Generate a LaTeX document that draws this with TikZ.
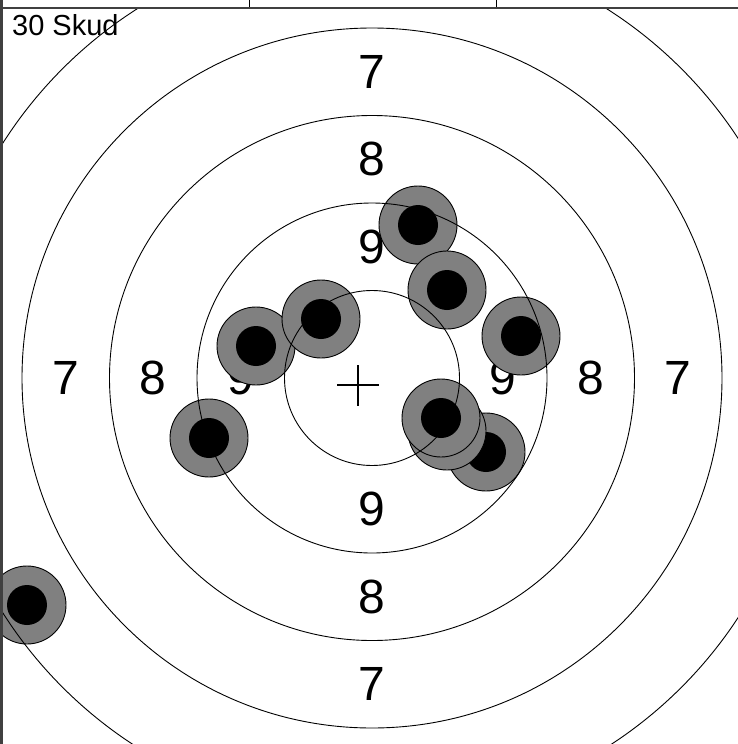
\documentclass[tikz,border=0pt]{standalone}
\usepackage{fontspec}
\setmainfont{Liberation Sans}
\usepackage{xcolor}
\definecolor{cShot}{HTML}{808080}
\definecolor{cFrame}{HTML}{404040}
\tikzset{
  ringline/.style={draw=black, line width=0.9pt},
  ringlabel/.style={inner sep=0pt, font=\fontsize{48}{48}\selectfont},
  countlabel/.style={inner sep=0pt, anchor=base west, font=\fontsize{29}{29}\selectfont},
  shotouter/.style={fill=cShot, draw=black, line width=0.9pt},
  shotinner/.style={fill=black},
  framerule/.style={draw=cFrame, line width=2.4pt},
  cellrule/.style={draw=black, line width=1pt},
  aimcross/.style={draw=black, line width=1.5pt},
}

\begin{document}
\begin{tikzpicture}[x=1pt, y=-1pt]
  \useasboundingbox (0,0) rectangle (738,744);

  % Header cells
  \draw[cellrule] (249,0) -- (249,8);
  \draw[cellrule] (496,0) -- (496,8);

  \begin{scope}
    \clip (2.7,9) rectangle (738,744);

    \begin{scope}[shift={(372,378)}]
      % Ring numbers
      \foreach \v/\d in {7/306, 8/219, 9/131} {
        \node[ringlabel] (top\v) at (0,-\d) {\v};
        \node[ringlabel] (bot\v) at (0,\d) {\v};
        \node[ringlabel] (lft\v) at (-\d,0) {\v};
        \node[ringlabel] (rgt\v) at (\d,0) {\v};
      }
    \end{scope}

    % Shots
    \foreach \sx/\sy [count=\i] in {27/605, 209/438, 256/346, 321/319, 418/225,
        447/290, 521/336, 486/452, 447/431, 441/418} {
      \draw[shotouter] (\sx,\sy) circle[radius=39];
      \fill[shotinner] (\sx,\sy) circle[radius=20];
    }

    % Rings
    \foreach \r in {87.5, 175, 262.5, 350, 437.5}
      \draw[ringline] (372,378) circle[radius=\r];
  \end{scope}

  % Aiming cross
  \coordinate (aim) at (358,385);
  \draw[aimcross] ([xshift=-21pt]aim) -- ([xshift=21pt]aim);
  \draw[aimcross] ([yshift=-20.5pt]aim) -- ([yshift=20.5pt]aim);

  \node[countlabel] (count) at (12,35) {30 Skud};

  % Frame
  \draw[framerule] (0,8) -- (738,8);
  \draw[framerule] (1.5,0) -- (1.5,744);
\end{tikzpicture}
\end{document}
